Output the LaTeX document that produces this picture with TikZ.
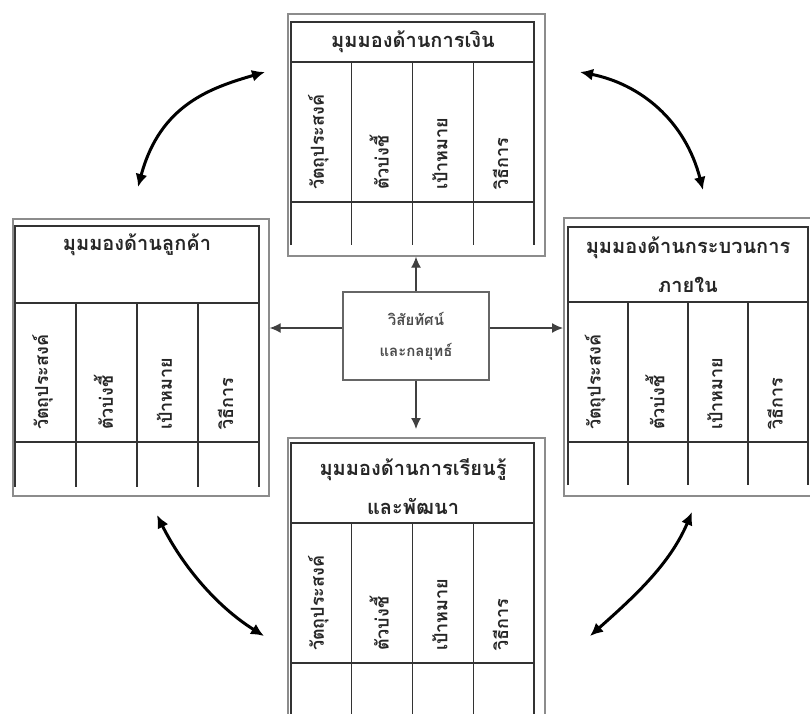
\documentclass[tikz,border=0pt]{standalone}
\usepackage{fontspec}
\setmainfont[Script=Thai]{Loma}
\usetikzlibrary{arrows.meta}

\tikzset{
  frame/.style={draw=black!45, line width=1.7pt, inner sep=0pt, anchor=north west},
  gridline/.style={draw=black!80, line width=1.3pt},
  titletext/.style={font=\fontsize{20}{39}\selectfont\bfseries, align=center, text=black!85},
  coltext/.style={font=\fontsize{18}{20}\selectfont\bfseries, rotate=90, anchor=west, text=black!85, inner sep=0pt},
  visbox/.style={draw=black!60, line width=1.4pt, minimum width=146pt, minimum height=88pt,
    font=\fontsize{15}{31}\selectfont\bfseries, align=center, text=black!70},
  link/.style={draw=black!75, line width=1.3pt, -{Latex[length=11pt,width=10pt]}},
  swap/.style={draw=black, line width=3pt, {Latex[length=13pt,width=12pt]}-{Latex[length=13pt,width=12pt]}}
}

% inner table of a perspective box:
% #1 left x, #2 top y, #3 right x, #4 title-row bottom, #5 label-row bottom, #6 end of the column lines
\newcommand\perspgrid[6]{%
  \draw[gridline] (#1,#6) -- (#1,#2) -- (#3,#2) -- (#3,#6);
  \draw[gridline] (#1,#4) -- (#3,#4);
  \draw[gridline] (#1,#5) -- (#3,#5);
  \pgfmathsetmacro\colw{(#3-#1)/4}
  \foreach \k in {1,2,3}{
    \draw[gridline] ({#1+\k*\colw},#4) -- ({#1+\k*\colw},#6);
  }
  \foreach \k/\lbl in {1/วัตถุประสงค์,2/ตัวบ่งชี้,3/เป้าหมาย,4/วิธีการ}{
    \node[coltext] at ({#1+(\k-0.5)*\colw-3},{#5-12}) {\lbl};
  }
}

\begin{document}
\begin{tikzpicture}[x=1pt,y=-1pt]
\clip (0,0) rectangle (810,713);
\fill[white] (0,0) rectangle (810,713);

% financial perspective (top)
\node[frame, minimum width=257pt, minimum height=242pt] (fin) at (287,13) {};
\perspgrid{291}{22}{534}{62}{202}{245}
\node[titletext] (fintitle) at (413,42) {มุมมองด้านการเงิน};

% customer perspective (left)
\node[frame, minimum width=256pt, minimum height=277pt] (cust) at (12,218) {};
\perspgrid{15}{226}{259}{303}{442}{487}
\node[titletext] (custtitle) at (137,245) {มุมมองด้านลูกค้า};

% internal process perspective (right)
\node[frame, minimum width=257pt, minimum height=278pt] (proc) at (563,217) {};
\perspgrid{568}{227}{808}{302}{442}{485}
\node[titletext] (proctitle) at (688,265) {มุมมองด้านกระบวนการ\\ภายใน};

% learning and growth perspective (bottom)
\node[frame, minimum width=257pt, minimum height=330pt] (learn) at (287,437) {};
\perspgrid{291}{443}{534}{523}{663}{760}
\node[titletext] (learntitle) at (413,487) {มุมมองด้านการเรียนรู้\\และพัฒนา};

% vision and strategy in the middle
\node[visbox] (vis) at (416,336) {วิสัยทัศน์\\และกลยุทธ์};

% links from the centre to each perspective
\draw[link] (vis.north) -- (vis.north |- fin.south);
\draw[link, shorten >=8pt] (vis.south) -- (vis.south |- learn.north);
\draw[link] ([yshift=8pt]vis.west) -- ([yshift=8pt]vis.west -| cust.east);
\draw[link] ([yshift=8pt]vis.east) -- ([yshift=8pt]vis.east -| proc.west);

% curved two-way arrows between neighbouring perspectives
\coordinate (tlA) at (138,187);
\coordinate (tlB) at (265,72);
\coordinate (trA) at (580,72);
\coordinate (trB) at (703,190);
\coordinate (blA) at (157,515);
\coordinate (blB) at (264,636);
\coordinate (brA) at (692,512);
\coordinate (brB) at (590,636);
\draw[swap] (tlA) .. controls (160,105) and (210,88) .. (tlB);
\draw[swap] (trA) .. controls (640,84) and (685,120) .. (trB);
\draw[swap] (blA) .. controls (182,565) and (216,606) .. (blB);
\draw[swap] (brA) .. controls (670,564) and (635,596) .. (brB);
\end{tikzpicture}
\end{document}
